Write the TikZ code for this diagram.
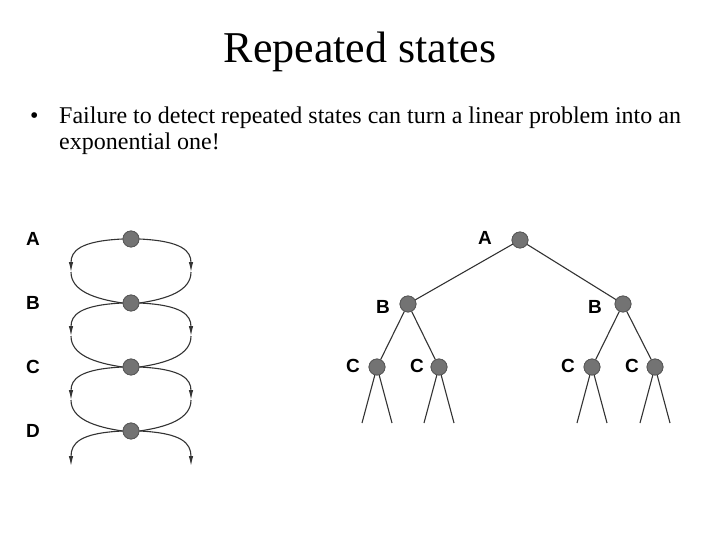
\documentclass[tikz,border=0pt]{standalone}
\usepackage{fontspec}
\setmainfont{Liberation Serif}
\newfontfamily\labfont{Liberation Sans}[BoldFont={* Bold}]
\usetikzlibrary{arrows.meta}
\begin{document}
\begin{tikzpicture}[x=1pt,y=-1pt,
  st/.style={circle,draw=black!65,fill=black!55,line width=0.8pt,minimum size=16pt,inner sep=0pt},
  lab/.style={font=\labfont\bfseries\fontsize{19}{19}\selectfont},
  txt/.style={anchor=base west,inner sep=0pt,font=\fontsize{24}{24}\selectfont},
  edge/.style={draw=black!80,line width=1.1pt},
  arr/.style={edge,-{Latex[length=10pt,width=4.5pt]}}]
\useasboundingbox (0,0) rectangle (720,540);
\node[font=\fontsize{44}{44}\selectfont] (title) at (360,52) {Repeated states};
\node[txt] (bul) at (30,124) {\textbullet};
\node[txt] (txt1) at (59,124) {Failure to detect repeated states can turn a linear problem into an};
\node[txt] (txt2) at (59,150) {exponential one!};
% left chain
\foreach \n/\y in {A/239,B/303,C/367,D/431}{
  \node[st] (L\n) at (131,\y) {};
  \node[lab] (l\n) at (33,\y) {\n};
}
\foreach \a/\b/\y in {A/B/239,B/C/303,C/D/367}{
  \coordinate (ml\a) at (71,\y+33);
  \coordinate (mr\a) at (191,\y+33);
  \draw[arr] (L\a.west) .. controls (80,\y+2) and (71,\y+12) .. (ml\a);
  \draw[edge] (ml\a) .. controls (71,\y+52) and (95,\y+60) .. (L\b.west);
  \draw[arr] (L\a.east) .. controls (182,\y+2) and (191,\y+12) .. (mr\a);
  \draw[edge] (mr\a) .. controls (191,\y+52) and (167,\y+60) .. (L\b.east);
}
\coordinate (mlD) at (71,466);
\coordinate (mrD) at (191,466);
\draw[arr] (LD.west) .. controls (80,433) and (71,443) .. (mlD);
\draw[arr] (LD.east) .. controls (182,433) and (191,443) .. (mrD);
% tree
\node[st] (A) at (520,240) {};
\node[lab] (tA) at (485,238) {A};
\node[st] (B1) at (408,304) {};
\node[st] (B2) at (623,304) {};
\node[lab] (tB1) at (383,307) {B};
\node[lab] (tB2) at (595,307) {B};
\foreach \i/\x/\lx in {1/377/353,2/439/417,3/592/568,4/655/632}{
  \node[st] (C\i) at (\x,367) {};
  \node[lab] (tC\i) at (\lx,366) {C};
  \coordinate (e\i a) at (\x-15,423);
  \coordinate (e\i b) at (\x+15,423);
  \draw[edge] (C\i) -- (e\i a);
  \draw[edge] (C\i) -- (e\i b);
}
\draw[edge] (A) -- (B1);
\draw[edge] (A) -- (B2);
\draw[edge] (B1) -- (C1);
\draw[edge] (B1) -- (C2);
\draw[edge] (B2) -- (C3);
\draw[edge] (B2) -- (C4);
\foreach \n in {A,B,C,D}{\node[st] at (L\n) {};}
\foreach \n in {A,B1,B2,C1,C2,C3,C4}{\node[st] at (\n) {};}
\end{tikzpicture}
\end{document}
